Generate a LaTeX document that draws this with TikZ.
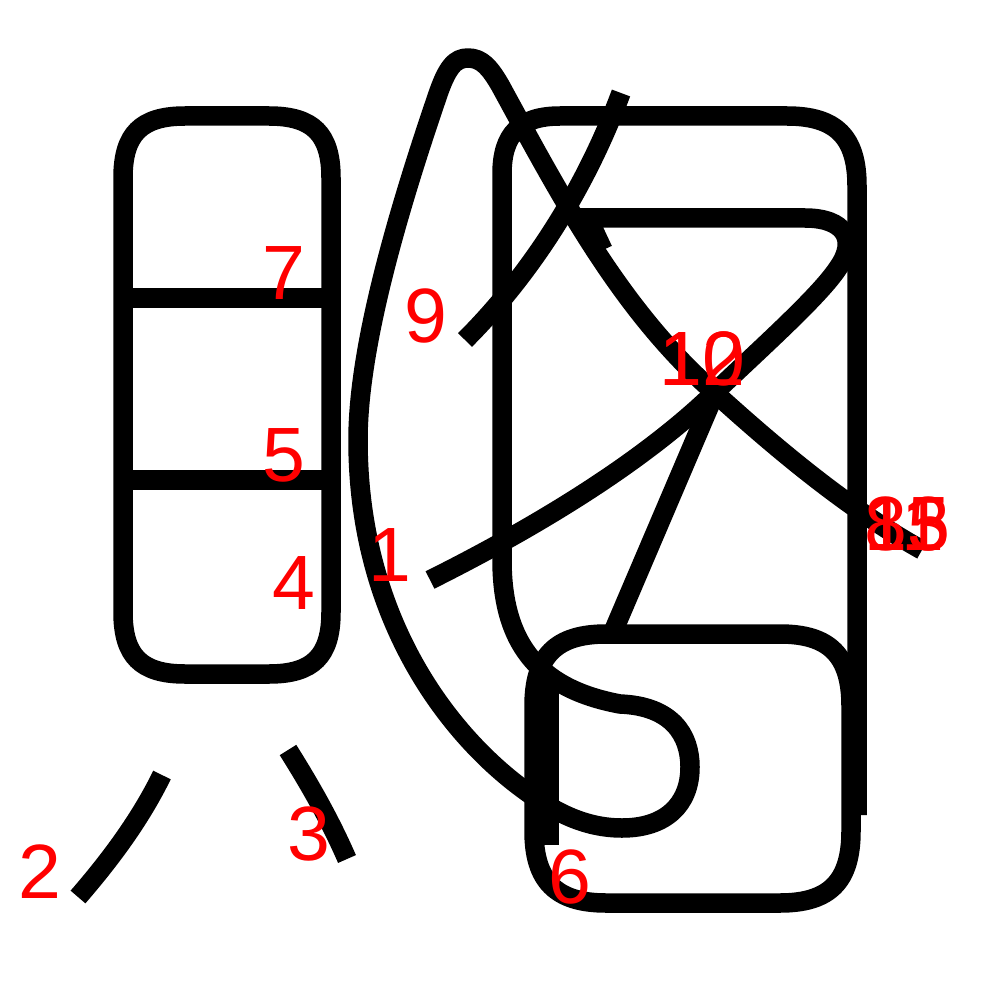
\documentclass[tikz,border=0pt]{standalone}
\usepackage{fontspec}
\setmainfont{Liberation Sans}
\begin{document}
\begin{tikzpicture}[x=1pt,y=-1pt,
  stroke/.style={draw=black,line width=19.5pt},
  num/.style={text=red,font=\fontsize{77}{77}\selectfont,inner sep=0pt,anchor=base},
  numw/.style={num,anchor=base west}]
\useasboundingbox (0,0) rectangle (1000,1000);
% left box
\draw[stroke] (123,178) .. controls (123,134) and (141,116) .. (185,116)
  -- (269,116) .. controls (313,116) and (331,134) .. (331,178)
  -- (331,612) .. controls (331,656) and (313,674) .. (269,674)
  -- (185,674) .. controls (141,674) and (123,656) .. (123,612) -- cycle;
\draw[stroke] (123,298) -- (331,298);
\draw[stroke] (123,480) -- (331,480);
% legs
\draw[stroke] (162,775) .. controls (140,820) and (110,860) .. (78,897);
\draw[stroke] (288,750) .. controls (310,785) and (330,820) .. (347,859);
% lower box
\draw[stroke] (534,706) .. controls (534,656) and (556,634) .. (606,634)
  -- (780,634) .. controls (830,634) and (851,656) .. (851,706)
  -- (851,831) .. controls (851,881) and (830,903) .. (780,903)
  -- (606,903) .. controls (556,903) and (534,881) .. (534,831) -- cycle;
\draw[stroke] (549,680) -- (549,845);
% tall box, S, big curve and peak stroke
\draw[stroke,line join=round] (857,815) -- (857,186) .. controls (857,137) and (836,116) .. (787,116)
  -- (560,116) .. controls (520,116) and (502,134) .. (502,174)
  -- (502,560) .. controls (502,650) and (545,690) .. (620,704)
  .. controls (672,706) and (690,735) .. (690,767)
  .. controls (690,805) and (665,828) .. (622,828)
  .. controls (585,828) and (555,812) .. (527,792)
  .. controls (450,737) and (358,620) .. (358,440)
  .. controls (358,350) and (395,220) .. (437,97)
  .. controls (447,67) and (455,58) .. (468,58)
  .. controls (482,58) and (490,68) .. (500,85)
  .. controls (560,195) and (620,310) .. (715,393)
  .. controls (780,452) and (850,510) .. (922,550);
% stroke with horizontal
\draw[stroke] (603,250) -- (588,218) -- (805,218)
  .. controls (845,218) and (858,240) .. (838,268)
  .. controls (820,295) and (770,340) .. (715,392)
  .. controls (640,465) and (530,530) .. (430,580);
% centre to lower box
\draw[stroke] (715,393) -- (613,632);
% stroke 9
\draw[stroke] (465,340) .. controls (530,275) and (585,190) .. (621,93);
% labels
\node[num] (n1) at (390,581) {1};
\node[num] (n2) at (40,898) {2};
\node[num] (n3) at (309,860) {3};
\node[num] (n4) at (294,609) {4};
\node[num] (n5) at (284,481) {5};
\node[num] (n6) at (570,903) {6};
\node[num] (n7) at (284,299) {7};
\node[numw] (n8) at (864,550) {8};
\node[num] (n9) at (426,342) {9};
\node[numw] (n10) at (659,385) {10};
\node[numw] (n11) at (864,550) {11};
\node[numw] (n12) at (659,385) {12};
\node[numw] (n13) at (864,550) {13};
\node[numw] (n15) at (864,550) {15};
\end{tikzpicture}
\end{document}
